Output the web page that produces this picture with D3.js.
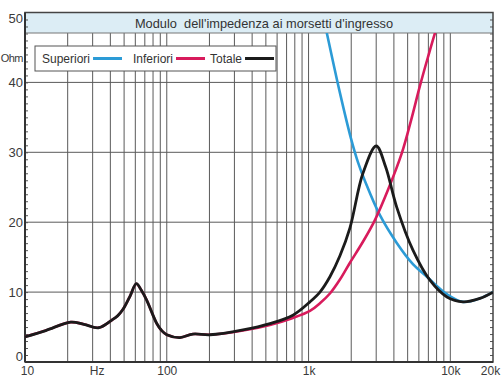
<!DOCTYPE html>
<html>
<head>
<meta charset="utf-8">
<script src="https://cdn.jsdelivr.net/npm/d3@7"></script>
<style>
  body { margin: 0; background: #fff; }
  svg { display: block; font-family: "Liberation Sans", Arial, sans-serif; }
</style>
</head>
<body>
<div id="chart"></div>
<script>
// data (frequency in Hz, impedance in Ohm)
const totaleFreq = [10, 14, 21, 26, 33, 41, 45, 49, 55, 61, 66, 72, 85, 92, 100, 124, 153, 202, 345, 534, 776, 1023, 1203, 1415, 1665, 1959, 2419, 3000, 3500, 4180, 5450, 7180, 9470, 12275, 16175, 20000];
const totaleOhm  = [3.6, 4.5, 5.7, 5.4, 4.9, 6.0, 6.6, 7.5, 9.4, 11.2, 10.3, 8.9, 5.5, 4.5, 3.9, 3.5, 4.0, 3.9, 4.6, 5.5, 6.7, 8.6, 10.0, 12.2, 15.2, 19.2, 27.0, 30.9, 27.9, 22.2, 16.0, 11.7, 9.3, 8.6, 9.1, 10.0];

const inferioriFreq = [10, 14, 21, 26, 33, 41, 45, 49, 55, 61, 66, 72, 85, 92, 100, 124, 153, 202, 345, 534, 776, 1023, 1203, 1415, 1665, 1959, 2419, 2939, 3630, 4535, 5274, 6104, 6950, 7913, 9161];
const inferioriOhm  = [3.6, 4.5, 5.7, 5.4, 4.9, 6.0, 6.6, 7.5, 9.4, 11.2, 10.3, 8.9, 5.5, 4.5, 3.9, 3.5, 4.0, 3.9, 4.5, 5.3, 6.3, 7.3, 8.4, 9.8, 11.8, 14.2, 17.2, 20.3, 24.6, 29.8, 34.5, 39.5, 43.6, 47.5, 51.5];

const superioriFreq = [1210, 1348, 1665, 1991, 2230, 2499, 3188, 4202, 5449, 6839, 9463, 12275, 16175, 20000];
const superioriOhm  = [51.5, 47.0, 38.5, 32.0, 28.6, 25.9, 21.0, 17.0, 14.0, 12.2, 9.7, 8.6, 9.1, 10.0];

const xTickValues = [10, 32, 100, 1000, 10000, 20000];
const xTickLabels = ['10', 'Hz', '100', '1k', '10k', '20k'];
const xGridValues = [20, 30, 40, 50, 60, 70, 80, 90, 100, 200, 300, 400, 500, 600, 700, 800, 900, 1000,
                     2000, 3000, 4000, 5000, 6000, 7000, 8000, 9000, 10000];
const yTickValues = [0, 10, 20, 30, 40, 43.5, 50];
const yTickLabels = ['0', '10', '20', '30', '40', 'Ohm', '50'];
const yGridValues = [10, 20, 30, 40];

const legendNames = ['Superiori', 'Inferiori', 'Totale'];
const colors = { Superiori: '#2c9bd6', Inferiori: '#d81b5c', Totale: '#1b1b1b' };

const width = 501, height = 391;
const plotLeft = 25, plotRight = 493, plotTop = 12.5, plotBottom = 362;
const bandBottom = 33;

const svg = d3.select('#chart').append('svg')
  .attr('width', width)
  .attr('height', height);

const x = d3.scaleLog().domain([10, 20000]).range([plotLeft, plotRight]);
const y = d3.scaleLinear().domain([0, 50]).range([plotBottom, plotTop]);

// title band
svg.append('rect')
  .attr('x', plotLeft).attr('y', plotTop)
  .attr('width', plotRight - plotLeft).attr('height', bandBottom - plotTop)
  .attr('fill', '#dcedf5');

// grid
svg.append('g')
  .selectAll('line')
  .data(xGridValues)
  .join('line')
  .attr('x1', d => x(d)).attr('x2', d => x(d))
  .attr('y1', bandBottom).attr('y2', plotBottom)
  .attr('stroke', '#5a5a5a')
  .attr('stroke-width', 1);

svg.append('g')
  .selectAll('line')
  .data(yGridValues)
  .join('line')
  .attr('x1', plotLeft).attr('x2', plotRight)
  .attr('y1', d => y(d)).attr('y2', d => y(d))
  .attr('stroke', '#5a5a5a')
  .attr('stroke-width', 1);

// minor ticks every ohm, left and right
svg.append('g')
  .attr('transform', `translate(${plotLeft},0)`)
  .call(d3.axisRight(y).tickValues(d3.range(1, 50)).tickSize(3).tickFormat(''))
  .call(g => g.select('.domain').remove())
  .selectAll('line').attr('stroke', '#555');

svg.append('g')
  .attr('transform', `translate(${plotRight},0)`)
  .call(d3.axisLeft(y).tickValues(d3.range(1, 50)).tickSize(3).tickFormat(''))
  .call(g => g.select('.domain').remove())
  .selectAll('line').attr('stroke', '#555');

// frame
svg.append('line')
  .attr('x1', plotLeft).attr('x2', plotRight).attr('y1', bandBottom).attr('y2', bandBottom)
  .attr('stroke', '#777').attr('stroke-width', 1);
svg.append('rect')
  .attr('x', plotLeft).attr('y', plotTop)
  .attr('width', plotRight - plotLeft).attr('height', plotBottom - plotTop)
  .attr('fill', 'none')
  .attr('stroke', '#444')
  .attr('stroke-width', 1.5);
svg.append('line')
  .attr('x1', plotLeft).attr('x2', plotRight).attr('y1', plotBottom).attr('y2', plotBottom)
  .attr('stroke', '#333').attr('stroke-width', 2);
svg.append('line')
  .attr('x1', plotLeft).attr('x2', plotLeft).attr('y1', plotTop).attr('y2', plotBottom)
  .attr('stroke', '#333').attr('stroke-width', 2);

// title
svg.append('text')
  .attr('x', 264)
  .attr('y', 28)
  .attr('text-anchor', 'middle')
  .attr('fill', '#333')
  .style('font-size', '12.8px')
  .style('white-space', 'pre')
  .text("Modulo  dell'impedenza ai morsetti d'ingresso");

// curves
svg.append('clipPath').attr('id', 'plotClip')
  .append('rect')
  .attr('x', plotLeft).attr('y', bandBottom)
  .attr('width', plotRight - plotLeft).attr('height', plotBottom - bandBottom);

const line = d3.line()
  .x(d => x(d[0]))
  .y(d => y(d[1]))
  .curve(d3.curveCatmullRom.alpha(0.5));

const curves = svg.append('g').attr('clip-path', 'url(#plotClip)');

curves.append('path')
  .datum(d3.zip(superioriFreq, superioriOhm))
  .attr('d', line)
  .attr('fill', 'none')
  .attr('stroke', colors.Superiori)
  .attr('stroke-width', 2.6);

curves.append('path')
  .datum(d3.zip(inferioriFreq, inferioriOhm))
  .attr('d', line)
  .attr('fill', 'none')
  .attr('stroke', colors.Inferiori)
  .attr('stroke-width', 2.6);

curves.append('path')
  .datum(d3.zip(totaleFreq, totaleOhm))
  .attr('d', line)
  .attr('fill', 'none')
  .attr('stroke', colors.Totale)
  .attr('stroke-width', 2.8);

// axes labels
const xAxis = svg.append('g')
  .attr('transform', `translate(0,${plotBottom})`)
  .call(d3.axisBottom(x).tickValues(xTickValues).tickSize(0).tickPadding(4)
    .tickFormat((d, i) => xTickLabels[i]));
xAxis.select('.domain').remove();
xAxis.selectAll('text')
  .attr('fill', '#3a3a3a')
  .style('font-size', '12px')
  .attr('dx', (d, i) => i === 0 ? 2 : (i === xTickLabels.length - 1 ? -3 : 0));

const yAxis = svg.append('g')
  .attr('transform', `translate(${plotLeft},0)`)
  .call(d3.axisLeft(y).tickValues(yTickValues).tickSize(0).tickPadding(2)
    .tickFormat((d, i) => yTickLabels[i]));
yAxis.select('.domain').remove();
yAxis.selectAll('text')
  .attr('fill', '#3a3a3a')
  .style('font-size', d => d === 43.5 ? '11px' : '13px')
  .style('letter-spacing', d => d === 43.5 ? '-0.5px' : null)
  .attr('dy', d => d === 0 ? '-0.15em' : (d === 50 ? '0.75em' : '0.32em'));

// legend
const legend = svg.append('g').attr('transform', 'translate(35,46)');
legend.append('rect')
  .attr('width', 241).attr('height', 25)
  .attr('fill', '#fff')
  .attr('stroke', '#555')
  .attr('stroke-width', 1);

const legendX = d3.scaleOrdinal().domain(legendNames).range([7, 98, 175]);
const item = legend.selectAll('g.item')
  .data(legendNames)
  .join('g')
  .attr('class', 'item')
  .attr('transform', d => `translate(${legendX(d)},0)`);
item.append('text')
  .attr('y', 17)
  .attr('fill', '#333')
  .style('font-size', '12px')
  .text(d => d);
item.each(function (d) {
  const w = this.querySelector('text').getComputedTextLength();
  d3.select(this).append('line')
    .attr('x1', w + 3).attr('x2', w + 32)
    .attr('y1', 12.5).attr('y2', 12.5)
    .attr('stroke', colors[d])
    .attr('stroke-width', 3);
});
</script>
</body>
</html>
